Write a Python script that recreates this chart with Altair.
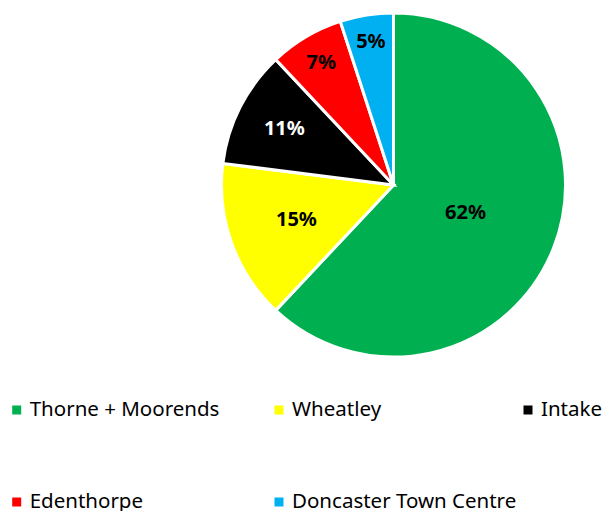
import altair as alt
import pandas as pd

categories = ["Thorne + Moorends", "Wheatley", "Intake", "Edenthorpe", "Doncaster Town Centre"]
values = [62, 15, 11, 7, 5]
colors = ["#00B050", "#FFFF00", "#000000", "#FF0000", "#00B0F0"]

df = pd.DataFrame({
    "category": categories,
    "value": values,
    "idx": list(range(len(categories))),
})
df["label"] = [f"{v}%" for v in values]
df["col"] = df["idx"] % 3
df["row"] = df["idx"] // 3

R = 172
CX, CY = 385.5, 177

color_scale = alt.Scale(domain=categories, range=colors)

base = alt.Chart(df)

arcs = base.mark_arc(outerRadius=R, stroke="white", strokeWidth=3).encode(
    theta=alt.Theta("value:Q", stack=True),
    color=alt.Color("category:N", scale=color_scale, legend=None),
    order=alt.Order("idx:Q"),
    x=alt.value(CX),
    y=alt.value(CY),
)

labels = base.transform_window(
    cum="sum(value)", sort=[alt.SortField("idx", order="ascending")]
).transform_calculate(
    mid="datum.cum - datum.value / 2",
    lr=f"{R} * min(0.84, max(0.45, 1.02 - 0.028 * datum.value))",
).mark_text(font="Noto Sans", fontSize=20, fontWeight="bold").encode(
    theta=alt.Theta("mid:Q", stack=None),
    radius=alt.Radius("lr:Q", scale=None),
    text="label:N",
    color=alt.condition(alt.datum.category == "Intake", alt.value("white"), alt.value("black")),
    x=alt.value(CX),
    y=alt.value(CY),
)

xs = alt.Scale(domain=[0, 1, 2], range=[8.7, 271, 520])
ys = alt.Scale(domain=[0, 1], range=[402, 494])

leg_sq = base.mark_square(size=81, opacity=1).encode(
    x=alt.X("col:Q", scale=xs, axis=None),
    y=alt.Y("row:Q", scale=ys, axis=None),
    color=alt.Color("category:N", scale=color_scale, legend=None),
)

leg_txt = base.mark_text(font="Noto Sans", fontSize=20.5, align="left", baseline="middle", dx=13, color="black").encode(
    x=alt.X("col:Q", scale=xs, axis=None),
    y=alt.Y("row:Q", scale=ys, axis=None),
    text="category:N",
)

chart = alt.layer(arcs, labels, leg_sq, leg_txt).properties(
    width=598, height=503, autosize=alt.AutoSizeParams(type="none"), padding=0
).configure_view(stroke=None)

chart.save("out.html", embed_options={"renderer": "svg", "actions": False})
